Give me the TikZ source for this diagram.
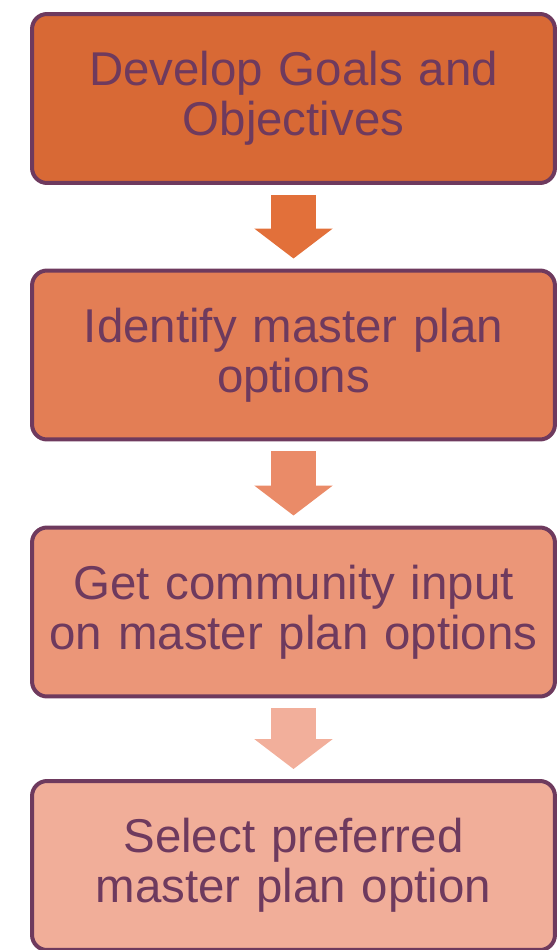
\documentclass[tikz,border=0pt]{standalone}
\usepackage{fontspec}
\setmainfont{Liberation Sans}
\usetikzlibrary{arrows.meta, positioning}
\definecolor{planborder}{HTML}{6E3A5E}
\definecolor{stepA}{HTML}{D86935}
\definecolor{stepB}{HTML}{E37E55}
\definecolor{stepC}{HTML}{EB9678}
\definecolor{stepD}{HTML}{F1AE99}
\definecolor{arrowA}{HTML}{E2703A}
\definecolor{arrowB}{HTML}{EA8B68}
\definecolor{arrowC}{HTML}{F2AF9B}
\tikzset{%
	stepbox/.style={
		rectangle,
		rounded corners=0.3cm,
		draw=planborder,
		line width=0.08cm,
		minimum width=10.46cm,
		minimum height=3.38cm,
		text width=10.2cm,
		align=center,
		text=planborder,
		font=\fontsize{27}{28.5}\selectfont
	},
	blockarrow/.style={
		line width=0.92cm,
		-{Triangle[length=0.6cm, width=1.54cm]}
	},
}

\begin{document}
\begin{tikzpicture}[x=0.02cm, y=-0.02cm]
			\useasboundingbox (0,0) rectangle (559,950);
			
			% Steps of the master plan
			\node[stepbox, fill=stepA] (goals) at (293.5,98.5) {Develop Goals and\\Objectives};
			\node[stepbox, fill=stepB] (options) at (293.5,355) {Identify master plan\\options};
			\node[stepbox, fill=stepC] (input) at (293.5,612) {Get community input\\on master plan options};
			\node[stepbox, fill=stepD] (select) at (293.5,865.5) {Select preferred\\master plan option};
			
			% Block arrows between the steps
			\draw[blockarrow, arrowA] ([yshift=-0.2cm]goals.south) -- ([yshift=0.2cm]options.north);
			\draw[blockarrow, arrowB] ([yshift=-0.2cm]options.south) -- ([yshift=0.2cm]input.north);
			\draw[blockarrow, arrowC] ([yshift=-0.2cm]input.south) -- ([yshift=0.2cm]select.north);
			
		\end{tikzpicture}
\end{document}
